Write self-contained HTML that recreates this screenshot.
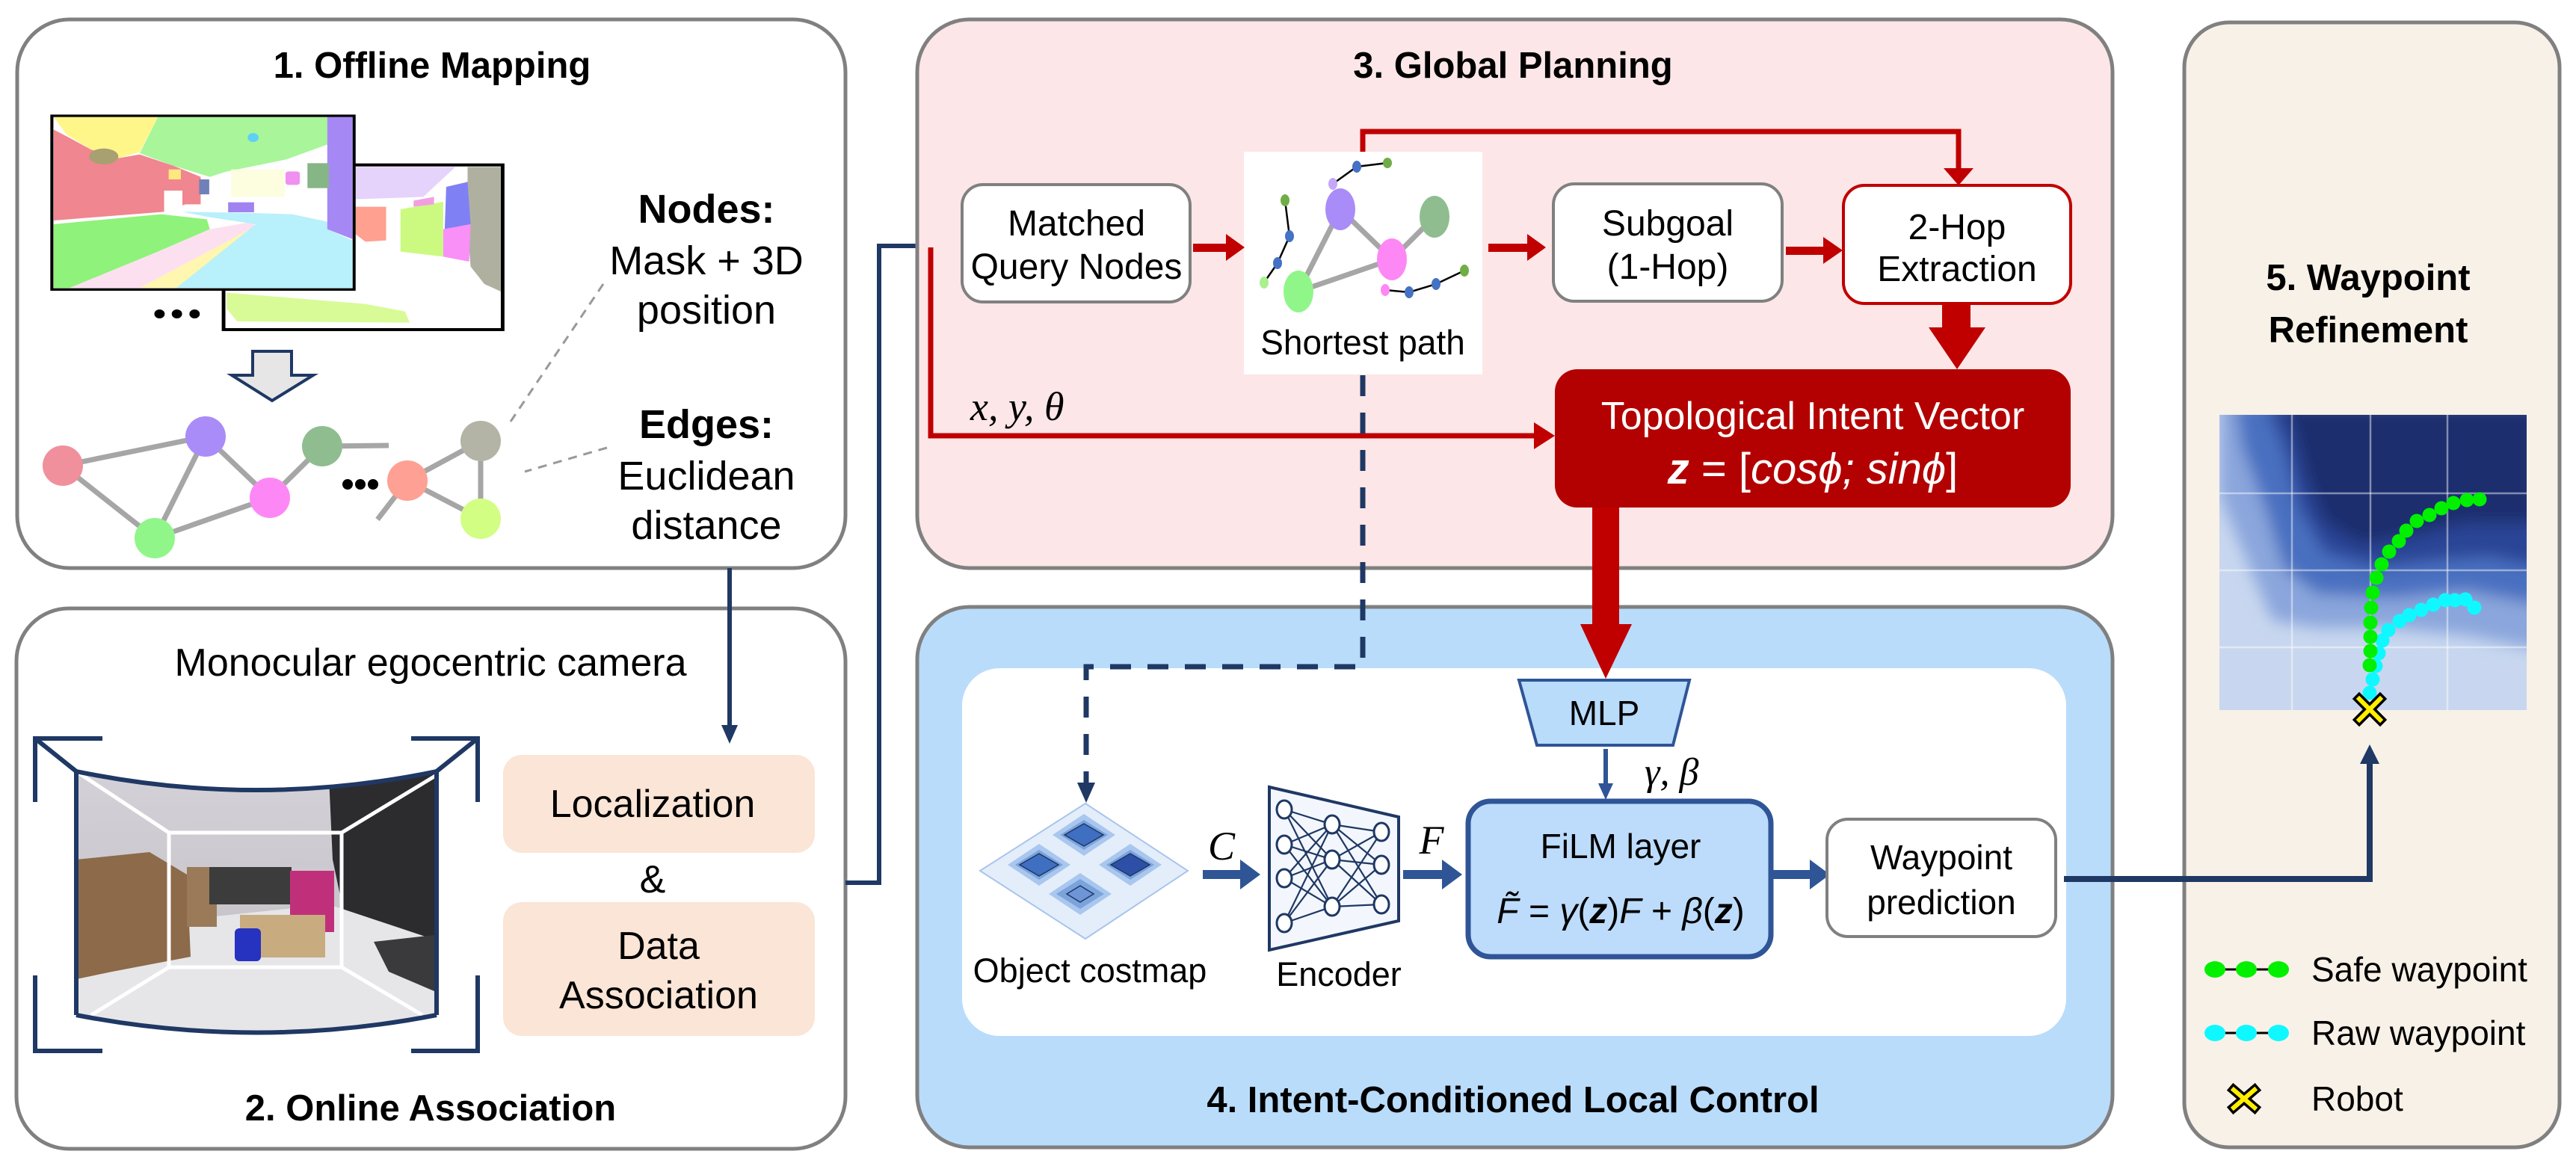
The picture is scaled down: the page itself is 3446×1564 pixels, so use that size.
<!DOCTYPE html>
<html><head><meta charset="utf-8"><style>
html,body{margin:0;padding:0;background:#fff}
svg{display:block}
text{font-family:"Liberation Sans",sans-serif}
.t{font-weight:bold;font-size:49px}
.b{font-size:48px}
.m{font-family:"Liberation Serif",serif;font-style:italic}
</style></head><body>
<svg width="3446" height="1564" viewBox="0 0 3446 1564" xmlns="http://www.w3.org/2000/svg">
<defs>
<clipPath id="cam"><path d="M102,1032 Q343,1082 584,1032 L584,1358 Q343,1405 102,1358 Z"/></clipPath>
<clipPath id="hm"><rect x="2969" y="555" width="411" height="395"/></clipPath>
<filter id="bl" x="-20%" y="-20%" width="140%" height="140%"><feGaussianBlur stdDeviation="10"/></filter>
<linearGradient id="wall" x1="0" y1="0" x2="0" y2="1"><stop offset="0" stop-color="#d4d2d8"/><stop offset="1" stop-color="#bdbbc0"/></linearGradient>
</defs>

<!-- Panel 1 -->
<rect x="23" y="26" width="1108" height="734" rx="70" fill="#fff" stroke="#808080" stroke-width="5"/>
<text x="578" y="104" text-anchor="middle" class="t">1. Offline Mapping</text>
<g transform="translate(40,140) scale(0.408,0.3333)">
 <rect x="635" y="242" width="915" height="661" fill="#fff" stroke="#000" stroke-width="12"/>
 <polygon points="1068,250 1395,250 1290,370 1068,380" fill="#e5d3fb"/>
 <polygon points="1435,250 1544,250 1544,750 1490,720 1445,650 1435,500" fill="#b0b0a0"/>
 <polygon points="1365,330 1435,310 1445,480 1360,500" fill="#8080f5"/>
 <polygon points="1355,500 1445,480 1440,630 1355,610" fill="#f890f8"/>
 <polygon points="1215,420 1355,390 1355,610 1215,590" fill="#ccfa80"/>
 <polygon points="1068,410 1168,410 1168,545 1100,550 1068,520" fill="#ffa090"/>
 <polygon points="1258,385 1325,370 1325,400 1258,410" fill="#f0a0e0"/>
 <polygon points="645,755 800,770 1100,800 1230,830 1245,875 680,870 645,820" fill="#d8fb98"/>
 <rect x="72" y="45" width="991" height="697" fill="#fff" stroke="#000" stroke-width="10"/>
 <polygon points="78,50 420,50 360,190 290,215 200,180 120,120" fill="#fff68a"/>
 <polygon points="420,50 975,50 975,160 840,220 640,270 590,290 470,245 360,195" fill="#a8f59a"/>
 <polygon points="78,100 125,130 200,180 290,215 360,200 470,245 560,290 560,400 510,400 440,430 78,465" fill="#f0868f"/>
 <polygon points="78,480 430,440 580,460 590,500 420,590 130,736 78,736" fill="#8ff27a"/>
 <polygon points="130,736 420,590 590,500 730,470 740,495 600,580 360,736" fill="#fde0f0"/>
 <polygon points="360,736 600,580 720,500 500,736" fill="#fff6b0"/>
 <polygon points="500,430 730,435 860,440 975,470 975,500 1058,545 1058,736 480,736 720,500 740,480 580,450" fill="#b8f0fb"/>
 <polygon points="975,50 1058,50 1058,540 975,500" fill="#a688f5"/>
 <rect x="910" y="235" width="70" height="100" fill="#86b586"/>
 <rect x="838" y="268" width="47" height="54" rx="10" fill="#f090f0"/>
 <rect x="650" y="392" width="85" height="40" fill="#a082f0"/>
 <rect x="555" y="300" width="33" height="60" fill="#7080b8"/>
 <rect x="660" y="260" width="175" height="110" fill="#fdfde0"/>
 <ellipse cx="732" cy="132" rx="18" ry="18" fill="#5fd0f5"/>
 <ellipse cx="242" cy="208" rx="48" ry="32" fill="#a8a070"/>
 <rect x="455" y="260" width="40" height="40" fill="#ffe880"/>
 <rect x="440" y="345" width="60" height="85" fill="#fff"/>
 <ellipse cx="425" cy="840" rx="17" ry="18" fill="#000"/><ellipse cx="482" cy="840" rx="17" ry="18" fill="#000"/><ellipse cx="540" cy="840" rx="17" ry="18" fill="#000"/>
</g>
<polygon points="338,470 390,470 390,502 419,502 364,536 310,502 338,502" fill="#e6e6e6" stroke="#1f3864" stroke-width="4"/>
<g stroke="#a6a6a6" stroke-width="7">
 <line x1="84" y1="623" x2="275" y2="584"/><line x1="84" y1="623" x2="207" y2="720"/><line x1="275" y1="584" x2="207" y2="720"/>
 <line x1="275" y1="584" x2="361" y2="666"/><line x1="207" y1="720" x2="361" y2="666"/><line x1="361" y1="666" x2="431" y2="597"/>
 <line x1="431" y1="597" x2="520" y2="596"/><line x1="545" y1="643" x2="643" y2="590"/><line x1="545" y1="643" x2="643" y2="694"/>
 <line x1="643" y1="590" x2="643" y2="694"/><line x1="545" y1="643" x2="505" y2="695"/>
</g>
<circle cx="84" cy="623" r="27" fill="#f0909c"/><circle cx="275" cy="584" r="27" fill="#a98cf7"/>
<circle cx="207" cy="720" r="27" fill="#90f68a"/><circle cx="361" cy="666" r="27" fill="#fd88f5"/>
<circle cx="431" cy="597" r="27" fill="#8fbd8f"/><circle cx="545" cy="643" r="27" fill="#fea093"/>
<circle cx="643" cy="590" r="27" fill="#b4b4a6"/><circle cx="643" cy="694" r="27" fill="#d2fe84"/>
<circle cx="465" cy="648" r="7"/><circle cx="482" cy="648" r="7"/><circle cx="499" cy="648" r="7"/>
<g stroke="#999" stroke-width="3" stroke-dasharray="12,9"><line x1="807" y1="380" x2="683" y2="564"/><line x1="812" y1="599" x2="702" y2="631"/></g>
<g font-size="54" text-anchor="middle">
 <text x="945" y="298" font-weight="bold">Nodes:</text>
 <text x="945" y="367">Mask + 3D</text>
 <text x="945" y="433">position</text>
 <text x="945" y="586" font-weight="bold">Edges:</text>
 <text x="945" y="655">Euclidean</text>
 <text x="945" y="721">distance</text>
</g>

<!-- Panel 2 -->
<rect x="22" y="814" width="1109" height="723" rx="70" fill="#fff" stroke="#808080" stroke-width="5"/>
<text x="576" y="904" text-anchor="middle" font-size="52">Monocular egocentric camera</text>
<text x="576" y="1499" text-anchor="middle" class="t">2. Online Association</text>
<g clip-path="url(#cam)">
 <rect x="100" y="1020" width="490" height="400" fill="url(#wall)"/>
 <polygon points="440,1040 590,1030 590,1290 470,1270 445,1150" fill="#2c2c2e"/>
 <polygon points="100,1290 250,1230 440,1210 590,1260 590,1420 100,1420" fill="#e6e6e8"/>
 <polygon points="500,1260 590,1250 590,1330 520,1300" fill="#3a3a3c"/>
 <polygon points="102,1150 200,1140 250,1170 255,1280 150,1300 102,1310" fill="#8c6a4a"/>
 <rect x="250" y="1160" width="40" height="80" fill="#9a7a58"/>
 <rect x="280" y="1160" width="110" height="50" fill="#3c3c3c"/>
 <rect x="388" y="1165" width="59" height="82" fill="#c0307a"/>
 <rect x="321" y="1224" width="114" height="57" fill="#c9ab80"/>
 <rect x="314" y="1242" width="35" height="44" rx="6" fill="#2533c0"/>
 <g stroke="#fff" stroke-width="5" fill="none">
  <rect x="226" y="1114" width="231" height="180"/>
  <line x1="226" y1="1114" x2="102" y2="1032"/><line x1="457" y1="1114" x2="584" y2="1037"/>
  <line x1="226" y1="1294" x2="122" y2="1358"/><line x1="457" y1="1294" x2="565" y2="1358"/>
 </g>
</g>
<g stroke="#1f3864" stroke-width="6" fill="none">
 <path d="M102,1032 Q343,1082 584,1032"/><path d="M102,1358 Q343,1405 584,1358"/>
 <line x1="102" y1="1032" x2="102" y2="1358"/><line x1="584" y1="1032" x2="584" y2="1358"/>
 <polyline points="137,988 47,988 47,1073"/><line x1="47" y1="988" x2="102" y2="1032"/>
 <polyline points="550,988 639,988 639,1073"/><line x1="639" y1="988" x2="584" y2="1032"/>
 <polyline points="47,1305 47,1406 137,1406"/><polyline points="639,1305 639,1406 550,1406"/>
</g>
<rect x="673" y="1010" width="417" height="131" rx="25" fill="#fbe5d6"/>
<rect x="673" y="1207" width="417" height="179" rx="25" fill="#fbe5d6"/>
<g font-size="52" text-anchor="middle">
 <text x="873" y="1093">Localization</text>
 <text x="873" y="1194">&amp;</text>
 <text x="881" y="1283">Data</text>
 <text x="881" y="1349">Association</text>
</g>
<!-- navy arrows -->
<line x1="976" y1="760" x2="976" y2="972" stroke="#1f3864" stroke-width="6"/>
<polygon points="965,970 987,970 976,995" fill="#1f3864"/>
<polyline points="1131,1181 1176,1181 1176,329 1262,329" fill="none" stroke="#1f3864" stroke-width="6"/>
<polygon points="1260,316 1289,329 1260,342" fill="#1f3864"/>

<!-- Panel 3 -->
<rect x="1227" y="26" width="1599" height="734" rx="70" fill="#fce6e7" stroke="#808080" stroke-width="5"/>
<text x="2024" y="104" text-anchor="middle" class="t">3. Global Planning</text>
<rect x="1287" y="247" width="305" height="157" rx="28" fill="#fff" stroke="#808080" stroke-width="4"/>
<text x="1440" y="315" text-anchor="middle" class="b">Matched</text>
<text x="1440" y="373" text-anchor="middle" class="b">Query Nodes</text>
<rect x="1664" y="203" width="319" height="298" fill="#fff"/>
<g stroke="#a6a6a6" stroke-width="7"><line x1="1793" y1="280" x2="1737" y2="390"/><line x1="1793" y1="280" x2="1862" y2="347"/><line x1="1862" y1="347" x2="1919" y2="290"/><line x1="1862" y1="347" x2="1737" y2="390"/></g>
<g stroke="#000" stroke-width="2.5"><polyline points="1783,246 1815,223 1856,218" fill="none"/><polyline points="1719,268 1725,316 1709,352 1691,378" fill="none"/><polyline points="1853,388 1885,391 1921,380 1959,362" fill="none"/></g>
<ellipse cx="1793" cy="280" rx="20" ry="28" fill="#a98cf7"/><ellipse cx="1919" cy="290" rx="20" ry="28" fill="#8fbd8f"/>
<ellipse cx="1862" cy="347" rx="20" ry="28" fill="#fd88f5"/><ellipse cx="1737" cy="390" rx="20" ry="28" fill="#90f68a"/>
<g><ellipse cx="1783" cy="246" rx="6" ry="8" fill="#c4a8f8"/><ellipse cx="1815" cy="223" rx="6" ry="8" fill="#4472c4"/><ellipse cx="1856" cy="218" rx="6" ry="7" fill="#70ad47"/>
<ellipse cx="1719" cy="268" rx="6" ry="8" fill="#70ad47"/><ellipse cx="1725" cy="316" rx="6" ry="8" fill="#4472c4"/><ellipse cx="1709" cy="352" rx="6" ry="8" fill="#4472c4"/><ellipse cx="1691" cy="378" rx="6" ry="8" fill="#a9f08e"/>
<ellipse cx="1853" cy="388" rx="6" ry="8" fill="#fd88f5"/><ellipse cx="1885" cy="391" rx="6" ry="8" fill="#4472c4"/><ellipse cx="1921" cy="380" rx="6" ry="8" fill="#4472c4"/><ellipse cx="1959" cy="362" rx="6" ry="8" fill="#70ad47"/></g>
<text x="1823" y="474" text-anchor="middle" font-size="46">Shortest path</text>
<rect x="2078" y="246" width="306" height="157" rx="28" fill="#fff" stroke="#808080" stroke-width="4"/>
<text x="2231" y="315" text-anchor="middle" class="b">Subgoal</text>
<text x="2231" y="373" text-anchor="middle" class="b">(1-Hop)</text>
<rect x="2466" y="248" width="304" height="158" rx="28" fill="#fff" stroke="#c00000" stroke-width="4"/>
<text x="2618" y="320" text-anchor="middle" class="b">2-Hop</text>
<text x="2618" y="376" text-anchor="middle" class="b">Extraction</text>
<!-- red arrows -->
<g fill="#c00000">
 <rect x="1596" y="326" width="46" height="11"/><polygon points="1640,313 1665,331 1640,349"/>
 <rect x="1991" y="326" width="54" height="11"/><polygon points="2043,313 2068,331 2043,349"/>
 <rect x="2389" y="330" width="52" height="11"/><polygon points="2439,317 2465,335 2439,353"/>
 <polygon points="2600,225 2640,225 2620,248"/>
 <rect x="2598" y="406" width="38" height="34"/><polygon points="2580,438 2656,438 2618,494"/>
 <polygon points="2052,565 2080,583 2052,601"/>
 <rect x="2130" y="679" width="36" height="158"/><polygon points="2114,835 2183,835 2148,908"/>
</g>
<polyline points="1823,203 1823,176 2620,176 2620,228" fill="none" stroke="#c00000" stroke-width="7"/>
<polyline points="1245,331 1245,583 2055,583" fill="none" stroke="#c00000" stroke-width="7"/>
<text x="1298" y="562" font-size="54" class="m">x, y, θ</text>
<rect x="2080" y="494" width="690" height="185" rx="30" fill="#b30000"/>
<text x="2425" y="574" text-anchor="middle" font-size="52" fill="#fff">Topological Intent Vector</text>
<text x="2425" y="647" text-anchor="middle" font-size="58" fill="#fff" font-family="Liberation Serif,serif"><tspan font-weight="bold" font-style="italic">z</tspan> = [<tspan font-style="italic">cosϕ; sinϕ</tspan>]</text>

<!-- Panel 4 -->
<rect x="1227" y="812" width="1599" height="723" rx="70" fill="#b9dcfb" stroke="#808080" stroke-width="5"/>
<rect x="1287" y="894" width="1477" height="492" rx="50" fill="#fff"/>
<text x="2024" y="1488" text-anchor="middle" class="t">4. Intent-Conditioned Local Control</text>
<rect x="2130" y="790" width="36" height="48" fill="#c00000"/>
<polygon points="2114,835 2183,835 2148,908" fill="#c00000"/>
<!-- dashed -->
<polyline points="1823,502 1823,892 1453,892 1453,1050" fill="none" stroke="#1f3864" stroke-width="7" stroke-dasharray="28,22"/>
<polygon points="1441,1047 1465,1047 1453,1074" fill="#1f3864"/>
<!-- costmap -->
<polygon points="1452,1075 1589,1165 1452,1256 1311,1165" fill="#e4eefb" stroke="#a9c5ec" stroke-width="2"/>
<g transform="translate(1450,1117)"><polygon points="0,-28 42,0 0,28 -42,0" fill="#a9c7ee"/><polygon points="0,-20 32,0 0,20 -32,0" fill="#7ba3dc"/><polygon points="0,-15 26,0 0,15 -26,0" fill="#3f6fc0" stroke="#1f3864" stroke-width="1.5"/></g>
<g transform="translate(1390,1157)"><polygon points="0,-28 42,0 0,28 -42,0" fill="#a9c7ee"/><polygon points="0,-20 32,0 0,20 -32,0" fill="#7ba3dc"/><polygon points="0,-15 26,0 0,15 -26,0" fill="#3f6fc0" stroke="#1f3864" stroke-width="1.5"/></g>
<g transform="translate(1512,1157)"><polygon points="0,-28 42,0 0,28 -42,0" fill="#a9c7ee"/><polygon points="0,-20 32,0 0,20 -32,0" fill="#7ba3dc"/><polygon points="0,-15 26,0 0,15 -26,0" fill="#2e4fa8" stroke="#1f3864" stroke-width="1.5"/></g>
<g transform="translate(1445,1196)"><polygon points="0,-28 42,0 0,28 -42,0" fill="#a9c7ee"/><polygon points="0,-20 32,0 0,20 -32,0" fill="#7ba3dc"/><polygon points="0,-11 18,0 0,11 -18,0" fill="#6e96d6" stroke="#1f3864" stroke-width="1.5"/></g>
<text x="1458" y="1314" text-anchor="middle" font-size="45">Object costmap</text>
<!-- encoder -->
<polygon points="1698,1053 1871,1093 1871,1232 1698,1271" fill="#f3f7fd" stroke="#1f3864" stroke-width="4"/>
<g stroke="#1f3864" stroke-width="2.2">
 <line x1="1718" y1="1083" x2="1782" y2="1103"/><line x1="1718" y1="1083" x2="1782" y2="1150"/><line x1="1718" y1="1083" x2="1782" y2="1213"/>
 <line x1="1718" y1="1130" x2="1782" y2="1103"/><line x1="1718" y1="1130" x2="1782" y2="1150"/><line x1="1718" y1="1130" x2="1782" y2="1213"/>
 <line x1="1718" y1="1175" x2="1782" y2="1103"/><line x1="1718" y1="1175" x2="1782" y2="1150"/><line x1="1718" y1="1175" x2="1782" y2="1213"/>
 <line x1="1718" y1="1235" x2="1782" y2="1103"/><line x1="1718" y1="1235" x2="1782" y2="1150"/><line x1="1718" y1="1235" x2="1782" y2="1213"/>
 <line x1="1782" y1="1103" x2="1848" y2="1113"/><line x1="1782" y1="1103" x2="1848" y2="1157"/><line x1="1782" y1="1103" x2="1848" y2="1210"/>
 <line x1="1782" y1="1150" x2="1848" y2="1113"/><line x1="1782" y1="1150" x2="1848" y2="1157"/><line x1="1782" y1="1150" x2="1848" y2="1210"/>
 <line x1="1782" y1="1213" x2="1848" y2="1113"/><line x1="1782" y1="1213" x2="1848" y2="1157"/><line x1="1782" y1="1213" x2="1848" y2="1210"/>
</g>
<g fill="#fff" stroke="#1f3864" stroke-width="3">
 <ellipse cx="1718" cy="1083" rx="10" ry="12"/><ellipse cx="1718" cy="1130" rx="10" ry="12"/><ellipse cx="1718" cy="1175" rx="10" ry="12"/><ellipse cx="1718" cy="1235" rx="10" ry="12"/>
 <ellipse cx="1782" cy="1103" rx="10" ry="12"/><ellipse cx="1782" cy="1150" rx="10" ry="12"/><ellipse cx="1782" cy="1213" rx="10" ry="12"/>
 <ellipse cx="1848" cy="1113" rx="10" ry="12"/><ellipse cx="1848" cy="1157" rx="10" ry="12"/><ellipse cx="1848" cy="1210" rx="10" ry="12"/>
</g>
<text x="1791" y="1319" text-anchor="middle" font-size="45">Encoder</text>
<!-- blue arrows -->
<g fill="#2f5597">
 <rect x="1609" y="1164" width="52" height="12"/><polygon points="1659,1150 1686,1170 1659,1190"/>
 <rect x="1877" y="1164" width="54" height="12"/><polygon points="1929,1150 1956,1170 1929,1190"/>
 <rect x="2371" y="1164" width="52" height="12"/><polygon points="2421,1150 2448,1170 2421,1190"/>
 <rect x="2145" y="1002" width="6" height="50"/><polygon points="2138,1048 2158,1048 2148,1070"/>
</g>
<text x="1634" y="1150" text-anchor="middle" font-size="54" class="m">C</text>
<text x="1915" y="1142" text-anchor="middle" font-size="54" class="m">F</text>
<text x="2200" y="1050" font-size="52" class="m">γ, β</text>
<polygon points="2032,910 2260,910 2238,997 2056,997" fill="#b9dcfb" stroke="#2f5597" stroke-width="4"/>
<text x="2146" y="970" text-anchor="middle" font-size="46">MLP</text>
<rect x="1964" y="1072" width="405" height="208" rx="30" fill="#bddcfb" stroke="#2f5597" stroke-width="7"/>
<text x="2168" y="1148" text-anchor="middle" font-size="46">FiLM layer</text>
<text x="2168" y="1235" text-anchor="middle" font-size="48" font-family="Liberation Serif,serif"><tspan font-style="italic">F̃</tspan> = <tspan font-style="italic">γ</tspan>(<tspan font-weight="bold" font-style="italic">z</tspan>)<tspan font-style="italic">F</tspan> + <tspan font-style="italic">β</tspan>(<tspan font-weight="bold" font-style="italic">z</tspan>)</text>
<rect x="2444" y="1096" width="306" height="157" rx="28" fill="#fff" stroke="#808080" stroke-width="4"/>
<text x="2597" y="1163" text-anchor="middle" font-size="46">Waypoint</text>
<text x="2597" y="1223" text-anchor="middle" font-size="46">prediction</text>

<!-- Panel 5 -->
<rect x="2922" y="30" width="502" height="1505" rx="60" fill="#f8f1e8" stroke="#808080" stroke-width="5"/>
<text x="3168" y="388" text-anchor="middle" class="t">5. Waypoint</text>
<text x="3168" y="458" text-anchor="middle" class="t">Refinement</text>
<g clip-path="url(#hm)">
 <rect x="2969" y="555" width="411" height="395" fill="#c8d7ef"/>
 <g filter="url(#bl)">
  <polygon points="2969,540 3400,540 3400,870 3300,850 3200,840 3100,840 3040,830 3010,760 2985,700 2969,660" fill="#8aa6dc"/>
  <polygon points="2990,540 3400,540 3400,810 3300,790 3200,800 3100,795 3055,760 3030,680 3000,600" fill="#4a6fc0"/>
  <polygon points="3030,540 3400,540 3400,760 3330,745 3260,750 3180,760 3110,740 3075,680 3055,600" fill="#2a4596"/>
  <polygon points="3055,540 3400,540 3400,700 3300,700 3240,715 3160,730 3110,700 3085,640 3070,580" fill="#1b2f6e"/>
 </g>
 <g stroke="#fff" stroke-opacity="0.45" stroke-width="2.5">
  <line x1="3066" y1="555" x2="3066" y2="950"/><line x1="3171" y1="555" x2="3171" y2="950"/><line x1="3274" y1="555" x2="3274" y2="950"/>
  <line x1="2969" y1="660" x2="3380" y2="660"/><line x1="2969" y1="763" x2="3380" y2="763"/><line x1="2969" y1="866" x2="3380" y2="866"/>
 </g>
</g>
<g fill="#10f8ff">
 <circle cx="3170" cy="927" r="9.5"/><circle cx="3174" cy="909" r="9.5"/><circle cx="3178" cy="891" r="9.5"/><circle cx="3182" cy="874" r="9.5"/><circle cx="3187" cy="857" r="9.5"/><circle cx="3195" cy="843" r="9.5"/><circle cx="3210" cy="831" r="9.5"/><circle cx="3223" cy="823" r="9.5"/><circle cx="3239" cy="816" r="9.5"/><circle cx="3255" cy="809" r="9.5"/><circle cx="3271" cy="803" r="9.5"/><circle cx="3284" cy="803" r="9.5"/><circle cx="3298" cy="802" r="9.5"/><circle cx="3310" cy="813" r="9.5"/>
</g>
<g fill="#00f000">
 <circle cx="3170" cy="890" r="9.5"/><circle cx="3171" cy="871" r="9.5"/><circle cx="3171" cy="852" r="9.5"/><circle cx="3171" cy="833" r="9.5"/><circle cx="3172" cy="813" r="9.5"/><circle cx="3174" cy="793" r="9.5"/><circle cx="3179" cy="773" r="9.5"/><circle cx="3186" cy="755" r="9.5"/><circle cx="3196" cy="738" r="9.5"/><circle cx="3209" cy="724" r="9.5"/><circle cx="3219" cy="710" r="9.5"/><circle cx="3233" cy="697" r="9.5"/><circle cx="3250" cy="689" r="9.5"/><circle cx="3266" cy="680" r="9.5"/><circle cx="3282" cy="673" r="9.5"/><circle cx="3300" cy="669" r="9.5"/><circle cx="3317" cy="668" r="9.5"/>
</g>
<g transform="translate(3170,949)"><path d="M-14,-14 L14,14 M14,-14 L-14,14" stroke="#000" stroke-width="13" stroke-linecap="square"/><path d="M-14,-14 L14,14 M14,-14 L-14,14" stroke="#ffee00" stroke-width="6" stroke-linecap="square"/></g>
<polyline points="2761,1176 3170,1176 3170,1020" fill="none" stroke="#1f3864" stroke-width="8"/>
<polygon points="3157,1022 3183,1022 3170,996" fill="#1f3864"/>
<line x1="2963" y1="1297" x2="3048" y2="1297" stroke="#000" stroke-width="3"/>
<g fill="#00f000"><ellipse cx="2963" cy="1297" rx="14" ry="11"/><ellipse cx="3005" cy="1297" rx="14" ry="11"/><ellipse cx="3048" cy="1297" rx="14" ry="11"/></g>
<line x1="2963" y1="1382" x2="3048" y2="1382" stroke="#000" stroke-width="3"/>
<g fill="#10f8ff"><ellipse cx="2963" cy="1382" rx="14" ry="11"/><ellipse cx="3005" cy="1382" rx="14" ry="11"/><ellipse cx="3048" cy="1382" rx="14" ry="11"/></g>
<g transform="translate(3002,1470)"><path d="M-14,-12 L14,12 M14,-12 L-14,12" stroke="#000" stroke-width="13" stroke-linecap="square"/><path d="M-14,-12 L14,12 M14,-12 L-14,12" stroke="#ffee00" stroke-width="6" stroke-linecap="square"/></g>
<g font-size="46"><text x="3092" y="1313">Safe waypoint</text><text x="3092" y="1398">Raw waypoint</text><text x="3092" y="1486">Robot</text></g>
</svg>
</body></html>
